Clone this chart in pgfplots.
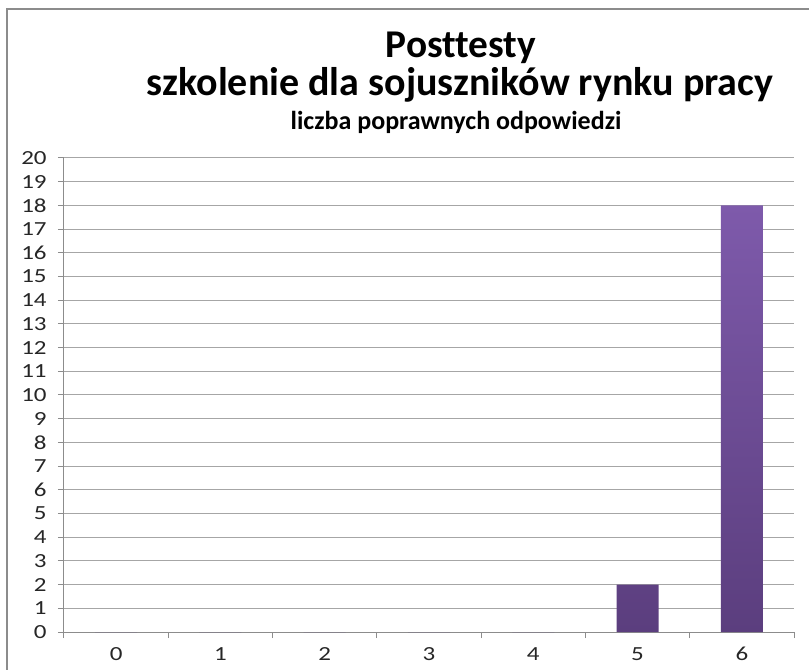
\documentclass[border=0pt]{standalone}
\usepackage{fontspec}
\setmainfont{Carlito}[Ligatures=NoCommon]
\newfontfamily\tickfont{Carlito}[FakeStretch=1.25]
\usepackage{pgfplots}
\pgfplotsset{compat=1.18}
\definecolor{gridc}{HTML}{A6A6A6}
\definecolor{axc}{HTML}{8C8C8C}
\definecolor{bartop}{HTML}{7E5AAB}
\definecolor{barbot}{HTML}{5B3E7E}
\begin{document}
\begin{tikzpicture}
\useasboundingbox (-48pt,-28.5pt) rectangle (558.75pt,474pt);
\draw[axc, line width=1.5pt] (-42.75pt,-40pt) -- (-42.75pt,467.25pt) -- (570pt,467.25pt);
\node[anchor=base, font=\bfseries\fontsize{29.5}{35}\selectfont] at (297.75pt,430.5pt) {Posttesty};
\node[anchor=base, font=\bfseries\fontsize{30}{35}\selectfont] at (297pt,402pt) {szkolenie dla sojuszników rynku pracy};
\node[anchor=base, font=\bfseries\fontsize{19.5}{23}\selectfont] at (294pt,377pt) {liczba poprawnych odpowiedzi};
\begin{axis}[at={(0,0)}, anchor=south west, scale only axis,
  width=547.5pt, height=355.5pt,
  xmin=-0.5, xmax=6.5, ymin=0, ymax=20,
  xtick={-0.5,0.5,...,6.5}, xticklabels={},
  extra x ticks={0,1,2,3,4,5,6},
  extra x tick style={major tick length=0pt, grid=none},
  ytick={0,1,...,20},
  ymajorgrids, major grid style={gridc, line width=0.75pt},
  axis x line*=bottom, axis y line*=left,
  axis line style={-, axc, line width=0.75pt},
  tick align=outside, major tick length=4.5pt,
  tick style={axc, line width=0.75pt},
  /pgf/number format/assume math mode=true,
  yticklabel style={xshift=-5pt, font=\tickfont\fontsize{15}{17}\selectfont, text=black!85},
  xticklabel style={yshift=-8pt, font=\tickfont\fontsize{15}{17}\selectfont, text=black!85},
]
\addplot[ybar, bar width=31.5pt, draw=none, top color=bartop, bottom color=barbot]
  coordinates {(0,0) (1,0) (2,0) (3,0) (4,0) (5,2) (6,18)};
\end{axis}
\end{tikzpicture}
\end{document}
